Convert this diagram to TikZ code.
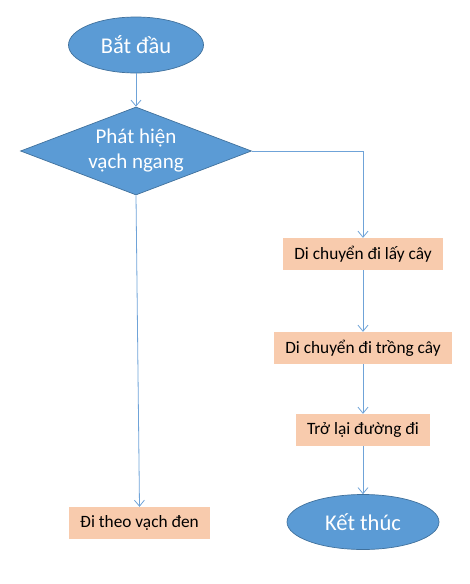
\documentclass[tikz,border=0pt]{standalone}
\usepackage{fontspec}
\setmainfont{Carlito}
\usetikzlibrary{shapes.geometric,arrows.meta}
\definecolor{fillblue}{HTML}{5B9BD5}
\definecolor{edgeblue}{HTML}{41719C}
\definecolor{boxfill}{HTML}{F8CBAD}
\definecolor{linkblue}{HTML}{6FA3D8}
\tikzset{
  term/.style={ellipse, fill=fillblue, draw=edgeblue, line width=0.7pt, text=white,
    font=\fontsize{22.5}{26}\selectfont, inner sep=0pt},
  decision/.style={diamond, fill=fillblue, draw=edgeblue, line width=0.7pt, text=white,
    font=\fontsize{21}{25}\selectfont, align=center, inner sep=0pt,
    shape aspect=2.625, minimum width=231pt, minimum height=88pt},
  proc/.style={rectangle, fill=boxfill, draw=none, text=black,
    font=\fontsize{17.3}{20}\selectfont, minimum height=32pt, inner sep=0pt},
  link/.style={draw=linkblue, line width=0.8pt, -{Straight Barb[length=6pt,width=10pt]}}
}
\begin{document}
\begin{tikzpicture}[x=1pt,y=-1pt]
\useasboundingbox (0,0) rectangle (470,584);
\node[term, minimum width=135pt, minimum height=56pt] (start) at (136,45) {Bắt đầu};
\node[decision] (dec) at (136,151) {Phát hiện\\vạch ngang};
\node[proc, minimum width=160pt] (b1) at (363,254) {Di chuyển đi lấy cây};
\node[proc, minimum width=178pt] (b2) at (363,348) {Di chuyển đi trồng cây};
\node[proc, minimum width=134pt] (b3) at (363,430) {Trở lại đường đi};
\node[term, minimum width=152pt, minimum height=55pt] (fin) at (363,522) {Kết thúc};
\node[proc, minimum width=141pt] (left) at (139.5,523) {Đi theo vạch đen};
\draw[link] (start.south) -- (dec.north);
\draw[link] (dec.east) -| (b1.north);
\draw[link] (b1.south) -- (b2.north);
\draw[link] (b2.south) -- (b3.north);
\draw[link] (b3.south) -- (fin.north);
\draw[link] (dec.south) -- (left.north);
\end{tikzpicture}
\end{document}
